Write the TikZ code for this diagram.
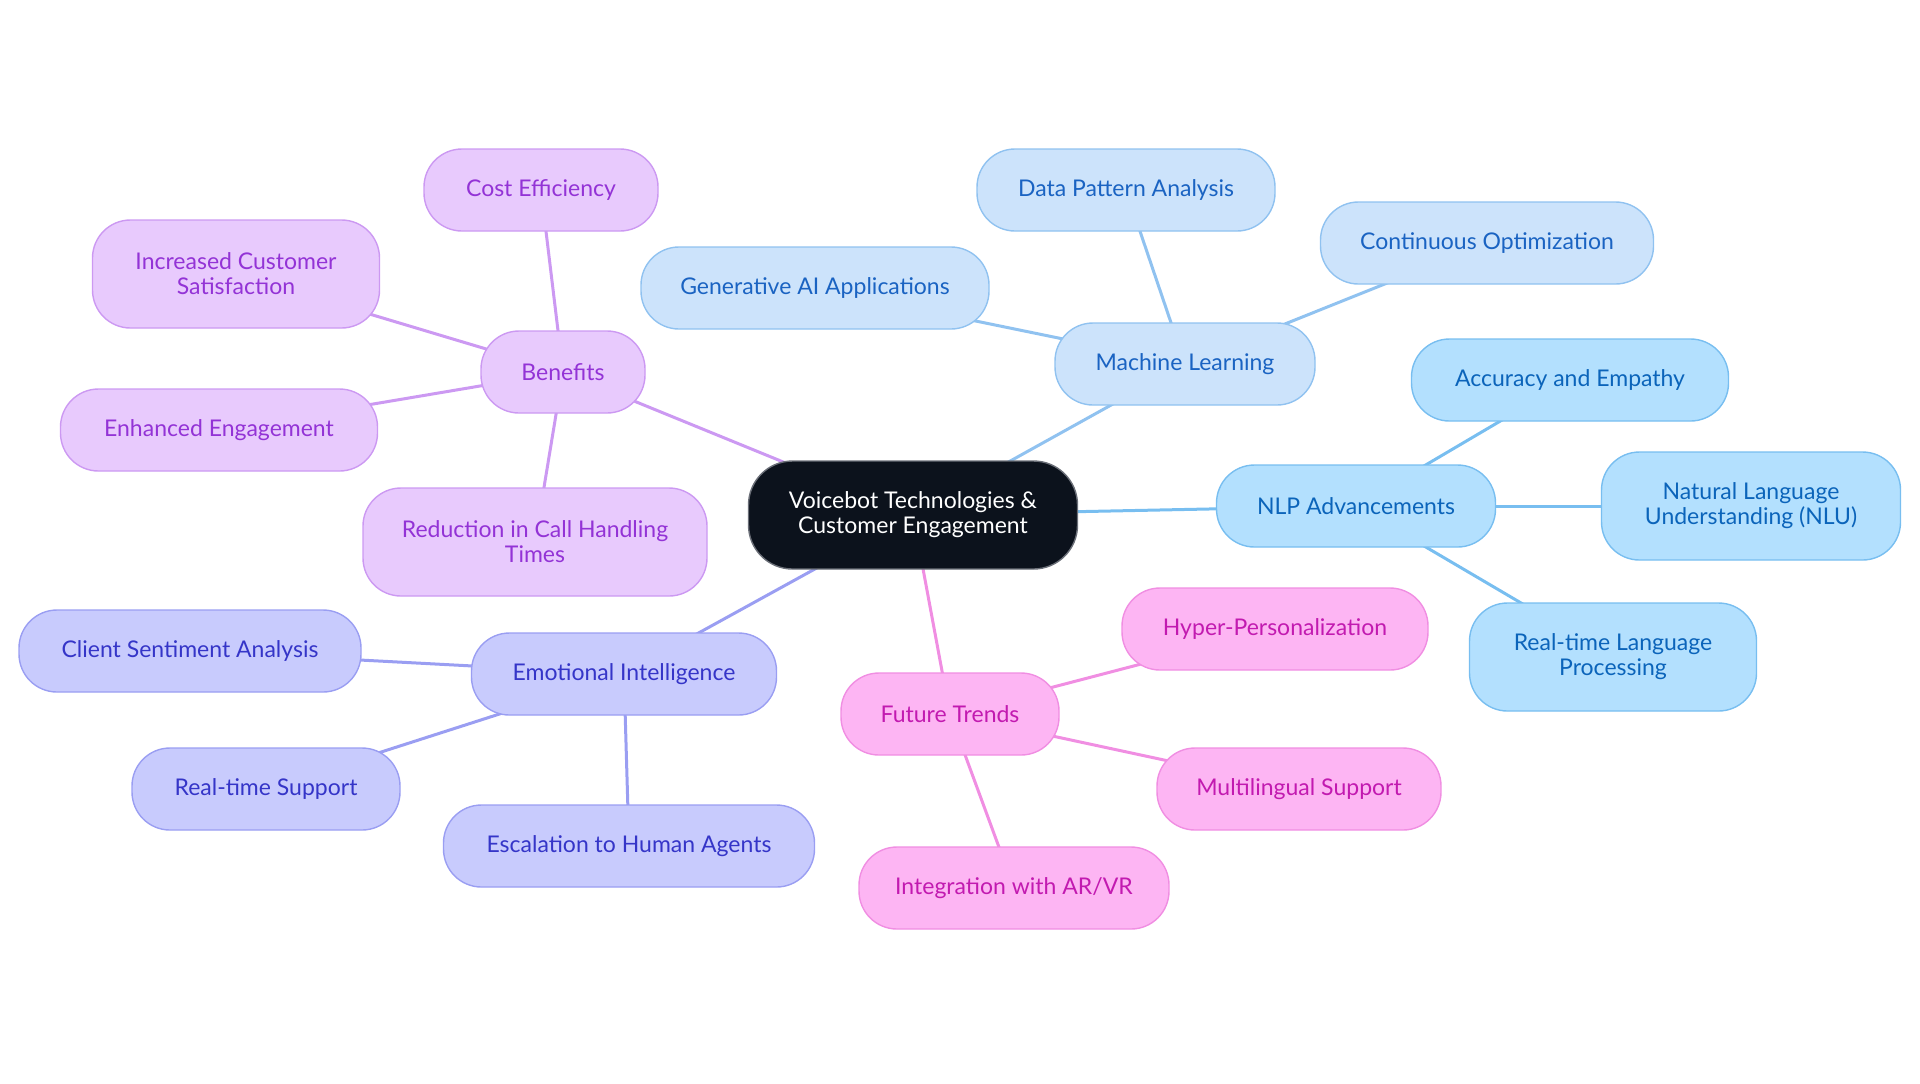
\documentclass[tikz,border=0pt]{standalone}
\usepackage{fontspec}
\setmainfont{Lato}
\usetikzlibrary{backgrounds}
\definecolor{cfill}{HTML}{0C121C}
\definecolor{cdraw}{HTML}{6B6F78}
\definecolor{mlfill}{HTML}{CCE3FB}
\definecolor{mldraw}{HTML}{90C2F0}
\definecolor{mltext}{HTML}{1A63C2}
\definecolor{nlfill}{HTML}{B3E0FE}
\definecolor{nldraw}{HTML}{78BEF0}
\definecolor{nltext}{HTML}{0B64BA}
\definecolor{bnfill}{HTML}{E8CAFD}
\definecolor{bndraw}{HTML}{CC99F2}
\definecolor{bntext}{HTML}{9333D6}
\definecolor{eifill}{HTML}{C8CBFD}
\definecolor{eidraw}{HTML}{9A9EF2}
\definecolor{eitext}{HTML}{3535C8}
\definecolor{ftfill}{HTML}{FDB5F3}
\definecolor{ftdraw}{HTML}{F08EE2}
\definecolor{fttext}{HTML}{C21AB0}
\tikzset{
  box/.style={rounded corners=19pt, align=center, inner sep=0pt, line width=0.7pt,
    font=\fontsize{11.5}{12.5}\selectfont, minimum height=41pt},
  tall/.style={minimum height=54pt},
  ctr/.style={box, fill=cfill, draw=cdraw, text=white, rounded corners=22pt},
  ml/.style={box, fill=mlfill, draw=mldraw, text=mltext},
  nl/.style={box, fill=nlfill, draw=nldraw, text=nltext},
  bn/.style={box, fill=bnfill, draw=bndraw, text=bntext},
  ei/.style={box, fill=eifill, draw=eidraw, text=eitext},
  ft/.style={box, fill=ftfill, draw=ftdraw, text=fttext},
  lk/.style={line width=1.5pt},
}
\begin{document}
\begin{tikzpicture}[x=0.5pt,y=-0.5pt]
\useasboundingbox (0,0) rectangle (1920,1083);
% nodes
\node[ctr, tall, minimum width=164.5pt] (c) at (913,515) {Voicebot Technologies \&\\Customer Engagement};
\node[ml, minimum width=130pt] (ml) at (1185,364) {Machine Learning};
\node[ml, minimum width=149pt] (dpa) at (1126,190) {Data Pattern Analysis};
\node[ml, minimum width=166.5pt] (co) at (1487,243) {Continuous Optimization};
\node[ml, minimum width=174pt] (gai) at (815,288) {Generative AI Applications};
\node[nl, minimum width=139.5pt] (nlp) at (1356,506) {NLP Advancements};
\node[nl, minimum width=158.5pt] (ae) at (1570,380) {Accuracy and Empathy};
\node[nl, tall, minimum width=149.5pt] (nlu) at (1751,506) {Natural Language\\Understanding (NLU)};
\node[nl, tall, minimum width=143.5pt] (rtlp) at (1613,657) {Real-time Language\\Processing};
\node[bn, minimum width=82pt] (bn) at (563,372) {Benefits};
\node[bn, minimum width=117pt] (ce) at (541,190) {Cost Efficiency};
\node[bn, tall, minimum width=143.5pt] (ics) at (236,274) {Increased Customer\\Satisfaction};
\node[bn, minimum width=158.5pt] (ee) at (219,430) {Enhanced Engagement};
\node[bn, tall, minimum width=172pt] (rcht) at (535,542) {Reduction in Call Handling\\Times};
\node[ei, minimum width=152.5pt] (ei) at (624,674) {Emotional Intelligence};
\node[ei, minimum width=171pt] (csa) at (190,651) {Client Sentiment Analysis};
\node[ei, minimum width=134pt] (rts) at (266,789) {Real-time Support};
\node[ei, minimum width=185.5pt] (eha) at (629,846) {Escalation to Human Agents};
\node[ft, minimum width=109pt] (ft) at (950,714) {Future Trends};
\node[ft, minimum width=153pt] (hp) at (1275,629) {Hyper-Personalization};
\node[ft, minimum width=142pt] (ms) at (1299,789) {Multilingual Support};
\node[ft, minimum width=155pt] (ar) at (1014,888) {Integration with AR/VR};
% links
\begin{pgfonlayer}{background}
\draw[lk, draw=mldraw] (c.center) -- (ml.center);
\draw[lk, draw=mldraw] (ml.center) -- (dpa.center);
\draw[lk, draw=mldraw] (ml.center) -- (co.center);
\draw[lk, draw=mldraw] (ml.center) -- (gai.center);
\draw[lk, draw=nldraw] (c.center) -- (nlp.center);
\draw[lk, draw=nldraw] (nlp.center) -- (ae.center);
\draw[lk, draw=nldraw] (nlp.center) -- (nlu.center);
\draw[lk, draw=nldraw] (nlp.center) -- (rtlp.center);
\draw[lk, draw=bndraw] (c.center) -- (bn.center);
\draw[lk, draw=bndraw] (bn.center) -- (ce.center);
\draw[lk, draw=bndraw] (bn.center) -- (ics.center);
\draw[lk, draw=bndraw] (bn.center) -- (ee.center);
\draw[lk, draw=bndraw] (bn.center) -- (rcht.center);
\draw[lk, draw=eidraw] (c.center) -- (ei.center);
\draw[lk, draw=eidraw] (ei.center) -- (csa.center);
\draw[lk, draw=eidraw] (ei.center) -- (rts.center);
\draw[lk, draw=eidraw] (ei.center) -- (eha.center);
\draw[lk, draw=ftdraw] (c.center) -- (ft.center);
\draw[lk, draw=ftdraw] (ft.center) -- (hp.center);
\draw[lk, draw=ftdraw] (ft.center) -- (ms.center);
\draw[lk, draw=ftdraw] (ft.center) -- (ar.center);
\end{pgfonlayer}
\end{tikzpicture}
\end{document}
